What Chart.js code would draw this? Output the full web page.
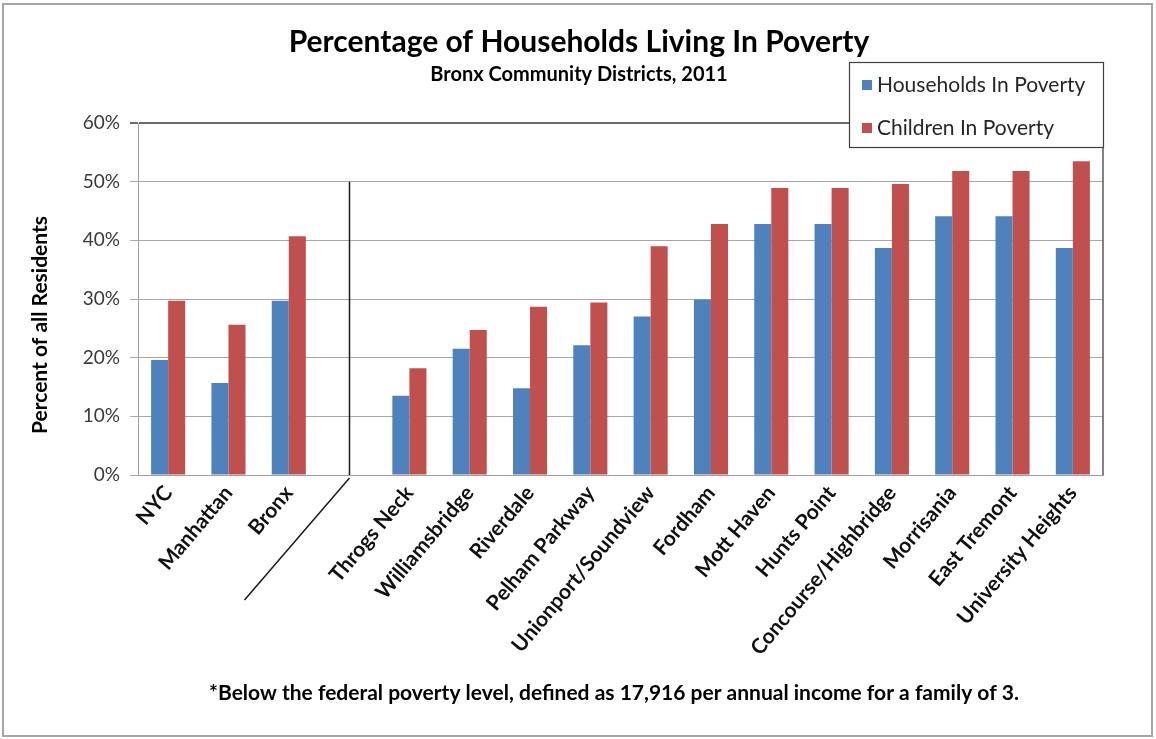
<!DOCTYPE html>
<html>
<head>
<meta charset="utf-8">
<script src="https://cdn.jsdelivr.net/npm/chart.js@4.4.1/dist/chart.umd.min.js"></script>
<style>
  html, body { margin: 0; padding: 0; background: #fff; }
  #wrap { width: 1156px; height: 739px; position: relative; }
</style>
</head>
<body>
<div id="wrap"><canvas id="grafico"></canvas></div>
<script>
// Datos (el hueco '' separa NYC/Manhattan/Bronx de los distritos)
const categories = ['NYC', 'Manhattan', 'Bronx', '', 'Throgs Neck', 'Williamsbridge', 'Riverdale',
  'Pelham Parkway', 'Unionport/Soundview', 'Fordham', 'Mott Haven', 'Hunts Point',
  'Concourse/Highbridge', 'Morrisania', 'East Tremont', 'University Heights'];
const householdsInPoverty = [19.6, 15.7, 29.7, null, 13.5, 21.5, 14.8, 22.1, 27.0, 29.9, 42.8, 42.8, 38.7, 44.1, 44.1, 38.7];
const childrenInPoverty = [29.7, 25.6, 40.7, null, 18.2, 24.7, 28.7, 29.4, 39.0, 42.8, 48.9, 48.9, 49.6, 51.8, 51.8, 53.5];
const yTicks = [0, 10, 20, 30, 40, 50, 60];
const seriesNames = ['Households In Poverty', 'Children In Poverty'];
const seriesColors = ['#4f81bd', '#c0504d'];

const titleText = 'Percentage of Households Living In Poverty';
const subtitleText = 'Bronx Community Districts, 2011';
const yTitleText = 'Percent of all Residents';
const footnoteText = '*Below the federal poverty level, defined as 17,916 per annual income for a family of 3.';

const FONT = 'Lato, "Open Sans", sans-serif';

// Textos, leyenda, marco y separador
const decoraciones = {
  id: 'decoraciones',
  afterDraw(chart) {
    const ctx = chart.ctx;
    const area = chart.chartArea;
    const x = chart.scales.x;
    const y = chart.scales.y;
    ctx.save();

    // marco exterior
    ctx.strokeStyle = '#a6a6a6';
    ctx.lineWidth = 2;
    ctx.strokeRect(3, 4, 1149, 732);

    // borde derecho del área
    ctx.strokeStyle = '#595959';
    ctx.lineWidth = 1.5;
    ctx.beginPath();
    ctx.moveTo(area.right, area.top);
    ctx.lineTo(area.right, area.bottom);
    ctx.stroke();

    // separador
    const sx = Math.round(x.getPixelForValue(3)) + 0.5;
    ctx.strokeStyle = '#1a1a1a';
    ctx.lineWidth = 1.5;
    ctx.beginPath();
    ctx.moveTo(sx, y.getPixelForValue(50));
    ctx.lineTo(sx, area.bottom);
    ctx.moveTo(sx, area.bottom + 3);
    ctx.lineTo(sx - 105, area.bottom + 125);
    ctx.stroke();

    // títulos
    ctx.fillStyle = '#000';
    ctx.textAlign = 'center';
    ctx.textBaseline = 'middle';
    ctx.font = 'bold 30px ' + FONT;
    ctx.fillText(titleText, 579, 42);
    ctx.font = 'bold 20px ' + FONT;
    ctx.fillText(subtitleText, 579, 75);

    // título eje y
    ctx.save();
    ctx.translate(40, 325);
    ctx.rotate(-Math.PI / 2);
    ctx.font = 'bold 21px ' + FONT;
    ctx.fillText(yTitleText, 0, 0);
    ctx.restore();

    // nota al pie
    ctx.font = 'bold 21px ' + FONT;
    ctx.fillText(footnoteText, 614, 693);

    // leyenda
    ctx.fillStyle = '#fff';
    ctx.fillRect(849, 62, 254, 85);
    ctx.strokeStyle = '#404040';
    ctx.lineWidth = 1.2;
    ctx.strokeRect(849.5, 62.5, 254, 85);
    ctx.textAlign = 'left';
    ctx.font = '21px ' + FONT;
    seriesNames.forEach((name, i) => {
      const ly = 85 + i * 43;
      ctx.fillStyle = seriesColors[i];
      ctx.fillRect(862, ly - 5, 10, 10);
      ctx.fillStyle = '#262626';
      ctx.fillText(name, 877, ly);
    });
    ctx.restore();
  }
};

const ctx = document.getElementById('grafico').getContext('2d');
new Chart(ctx, {
  type: 'bar',
  data: {
    labels: categories,
    datasets: [
      { label: seriesNames[0], data: householdsInPoverty, backgroundColor: seriesColors[0], barPercentage: 1, categoryPercentage: 0.565 },
      { label: seriesNames[1], data: childrenInPoverty, backgroundColor: seriesColors[1], barPercentage: 1, categoryPercentage: 0.565 }
    ]
  },
  options: {
    responsive: true,
    maintainAspectRatio: false,
    animation: false,
    layout: { padding: { top: 123, right: 53, bottom: 0, left: 0 } },
    plugins: {
      legend: { display: false },
      title: { display: false },
      tooltip: { enabled: false }
    },
    scales: {
      x: {
        afterFit(s) { s.height = 264; },
        grid: { display: true, drawOnChartArea: false, drawTicks: false, color: 'rgba(0,0,0,0)' },
        border: { display: true, color: '#a0a0a0', width: 1 },
        ticks: {
          autoSkip: false,
          minRotation: 50,
          maxRotation: 50,
          padding: 6,
          color: '#111',
          font: { family: FONT, size: 21, weight: 'bold' }
        }
      },
      y: {
        min: 0,
        max: 60,
        afterFit(s) { s.width = 138; },
        afterBuildTicks(s) { s.ticks = yTicks.map(v => ({ value: v })); },
        grid: {
          color: c => c.tick && c.tick.value === 60 ? '#6b6b6b' : '#a8a8a8',
          lineWidth: c => c.tick && c.tick.value === 60 ? 2 : 1,
          tickLength: 8
        },
        border: { display: true, color: '#a0a0a0', width: 1 },
        ticks: {
          padding: 10,
          color: '#3a3a3a',
          font: { family: FONT, size: 19 },
          callback: v => v + '%'
        }
      }
    }
  },
  plugins: [decoraciones]
});
</script>
</body>
</html>
